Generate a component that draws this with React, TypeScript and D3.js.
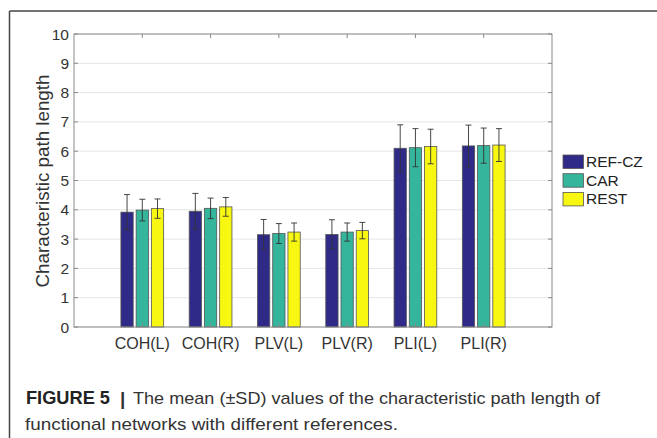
import React from "react";
import * as d3 from "d3";

const categories = ["COH(L)", "COH(R)", "PLV(L)", "PLV(R)", "PLI(L)", "PLI(R)"];
const seriesNames = ["REF-CZ", "CAR", "REST"];
const seriesColors = ["#2f2a88", "#35b59b", "#f7f712"];
const refMean = [3.92, 3.95, 3.15, 3.16, 6.1, 6.18];
const refSD = [0.6, 0.61, 0.52, 0.5, 0.8, 0.71];
const carMean = [3.99, 4.05, 3.19, 3.24, 6.12, 6.19];
const carSD = [0.37, 0.35, 0.34, 0.31, 0.65, 0.6];
const restMean = [4.04, 4.1, 3.24, 3.29, 6.16, 6.21];
const restSD = [0.33, 0.32, 0.31, 0.28, 0.59, 0.56];
const yTicks = [0, 1, 2, 3, 4, 5, 6, 7, 8, 9, 10];

const means = [refMean, carMean, restMean];
const sds = [refSD, carSD, restSD];

export default function App() {
  const W = 657, H = 438;
  const L = 74, R = 552, T = 34, B = 327;
  const x = d3.scaleLinear().domain([0, categories.length + 1]).range([L, R]);
  const y = d3.scaleLinear().domain([0, 10]).range([B, T]);
  const step = x(1) - x(0);
  const barW = step * 0.18;
  const offset = step * 0.223;
  const font = "'Liberation Sans', Arial, sans-serif";

  return (
    <div style={{ position: "absolute", left: 0, top: 0 }}>
      <svg width={W} height={H} style={{ display: "block", background: "#fff" }}>
        {/* outer frame */}
        <line x1={9.5} y1={11} x2={W} y2={11} stroke="#444" strokeWidth={1.5} />
        <line x1={9.5} y1={11} x2={9.5} y2={H} stroke="#444" strokeWidth={1.5} />

        {/* grid */}
        {yTicks.map((t) => (
          <line key={"g" + t} x1={L} x2={R} y1={y(t)} y2={y(t)} stroke="#e6e6e6" strokeWidth={1} />
        ))}

        {/* bars */}
        {means.map((arr, s) =>
          arr.map((v, i) => {
            const cx = x(i + 1) + (s - 1) * offset;
            return (
              <rect
                key={`b${s}-${i}`}
                x={cx - barW / 2}
                y={y(v)}
                width={barW}
                height={y(0) - y(v)}
                fill={seriesColors[s]}
                stroke="#555"
                strokeWidth={0.8}
              />
            );
          })
        )}

        {/* error bars */}
        {means.map((arr, s) =>
          arr.map((v, i) => {
            const cx = x(i + 1) + (s - 1) * offset;
            const lo = y(v - sds[s][i]);
            const hi = y(v + sds[s][i]);
            const cap = 3;
            return (
              <g key={`e${s}-${i}`} stroke="#333" strokeWidth={0.9}>
                <line x1={cx} x2={cx} y1={lo} y2={hi} />
                <line x1={cx - cap} x2={cx + cap} y1={lo} y2={lo} />
                <line x1={cx - cap} x2={cx + cap} y1={hi} y2={hi} />
              </g>
            );
          })
        )}

        {/* axes box */}
        <rect x={L} y={T} width={R - L} height={B - T} fill="none" stroke="#8a8a8a" strokeWidth={1} />
        {yTicks.map((t) => (
          <g key={"yt" + t} stroke="#8a8a8a">
            <line x1={L} x2={L + 4} y1={y(t)} y2={y(t)} />
            <line x1={R} x2={R - 4} y1={y(t)} y2={y(t)} />
          </g>
        ))}
        {categories.map((c, i) => (
          <g key={"xt" + i} stroke="#8a8a8a">
            <line x1={x(i + 1)} x2={x(i + 1)} y1={T} y2={T + 4} />
            <line x1={x(i + 1)} x2={x(i + 1)} y1={B} y2={B - 4} />
          </g>
        ))}

        {/* y tick labels */}
        {yTicks.map((t) => (
          <text
            key={"yl" + t}
            x={L - 5}
            y={y(t)}
            dy="0.36em"
            textAnchor="end"
            fontFamily={font}
            fontSize={15.5}
            fill="#333"
          >
            {t}
          </text>
        ))}

        {/* x tick labels */}
        {categories.map((c, i) => (
          <text
            key={"xl" + i}
            x={x(i + 1)}
            y={348.5}
            textAnchor="middle"
            fontFamily={font}
            fontSize={16}
            fill="#333"
          >
            {c}
          </text>
        ))}

        {/* y axis title */}
        <text
          transform={`translate(49,${181}) rotate(-90)`}
          textAnchor="middle"
          fontFamily={font}
          fontSize={18.8}
          fill="#333"
        >
          Characteristic path length
        </text>

        {/* legend */}
        {seriesNames.map((n, s) => (
          <g key={"lg" + s}>
            <rect x={563} y={155 + s * 18.7} width={20.5} height={13.5} fill={seriesColors[s]} stroke="#555" strokeWidth={0.8} />
            <text x={586} y={155 + s * 18.7 + 12} fontFamily={font} fontSize={15.5} fill="#222">
              {n}
            </text>
          </g>
        ))}

        {/* caption */}
        <text x={26} y={404} fontFamily={font} fontSize={17.5} fill="#222" fontWeight="bold" textLength={84} lengthAdjust="spacingAndGlyphs">
          FIGURE 5
        </text>
        <text x={120} y={405} fontFamily={font} fontSize={19} fill="#333" fontWeight="bold">|</text>
        <text x={133} y={404} fontFamily={font} fontSize={17} fill="#333" textLength={467} lengthAdjust="spacingAndGlyphs">
          The mean (±SD) values of the characteristic path length of
        </text>
        <text x={25} y={429.5} fontFamily={font} fontSize={17} fill="#333" textLength={373} lengthAdjust="spacingAndGlyphs">
          functional networks with different references.
        </text>
      </svg>
    </div>
  );
}
